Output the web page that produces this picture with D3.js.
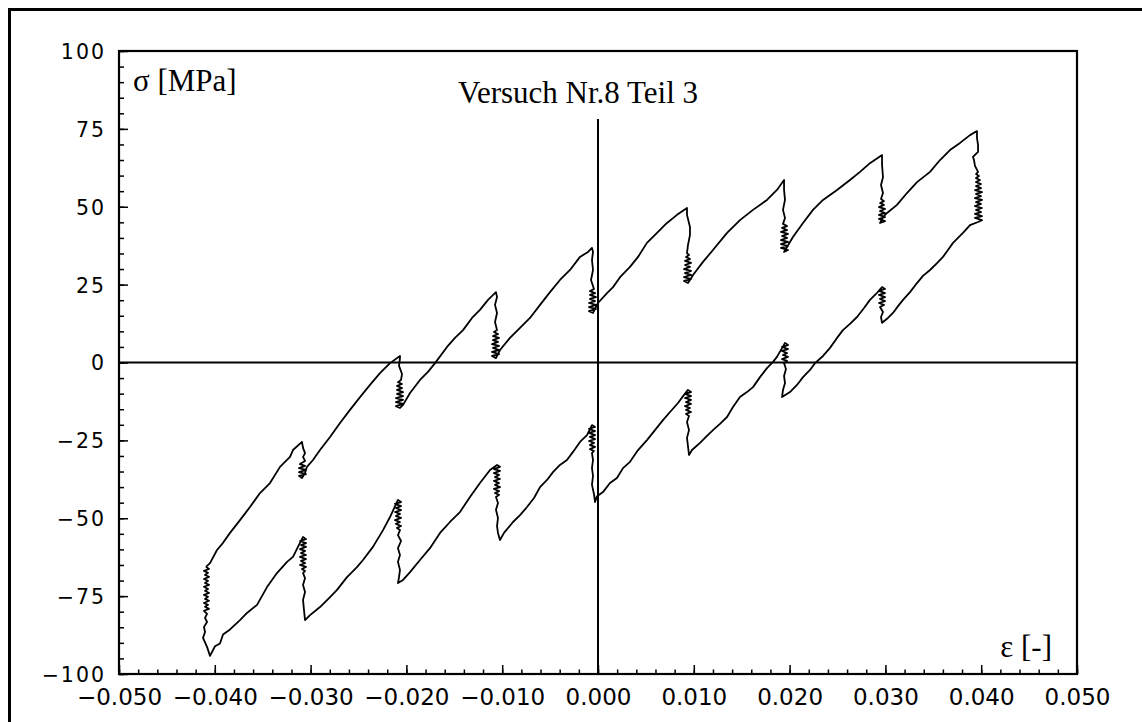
<!DOCTYPE html>
<html><head><meta charset="utf-8">
<script src="https://cdn.jsdelivr.net/npm/d3@7"></script>
<style>body{margin:0;background:#fff}svg{display:block}</style>
</head><body><svg id="c" width="1142" height="722"></svg>
<script>
// ---- data (strain [-], stress [MPa]) ----
// lower branch, left to right (incl. relaxation scribbles)
const lowerStrain = [
-0.04092,-0.04061,-0.04113,-0.04071,-0.04102,-0.04061,-0.04113,-0.04071,-0.04102,-0.04061,-0.04113,-0.04071,-0.04102,-0.04061,-0.04113,-0.04071,-0.04102,-0.04061,-0.04113,-0.04071,-0.04102,-0.04061,-0.04113,-0.04081,-0.04102,-0.04081,-0.04113,-0.04102,-0.04123,-0.04081,-0.04050,
-0.03998,-0.03946,-0.03914,-0.03841,-0.03737,-0.03664,-0.03559,-0.03455,-0.03351,-0.03246,-0.03184,-0.03111,-0.03079,
-0.03048,-0.03111,-0.03048,-0.03100,-0.03048,-0.03111,-0.03058,-0.03100,-0.03048,-0.03111,-0.03048,-0.03100,-0.03058,-0.03111,-0.03048,-0.03090,-0.03058,-0.03079,-0.03058,-0.03079,-0.03058,-0.03079,-0.03069,-0.03058,
-0.03006,-0.02902,-0.02797,-0.02724,-0.02620,-0.02516,-0.02453,-0.02349,-0.02244,-0.02171,-0.02088,
-0.02056,-0.02119,-0.02056,-0.02109,-0.02056,-0.02119,-0.02067,-0.02109,-0.02056,-0.02119,-0.02067,-0.02109,-0.02056,-0.02098,-0.02067,-0.02088,-0.02056,-0.02088,-0.02067,-0.02088,-0.02067,-0.02077,-0.02088,
-0.02035,-0.01962,-0.01858,-0.01754,-0.01649,-0.01545,-0.01441,-0.01336,-0.01232,-0.01127,-0.01054,
-0.01023,-0.01086,-0.01023,-0.01086,-0.01033,-0.01075,-0.01023,-0.01086,-0.01033,-0.01075,-0.01023,-0.01086,-0.01033,-0.01075,-0.01033,-0.01065,-0.01044,-0.01065,-0.01044,-0.01054,-0.01044,-0.01023,
-0.00981,-0.00887,-0.00814,-0.00741,-0.00668,-0.00605,-0.00532,-0.00470,-0.00397,-0.00324,-0.00261,-0.00188,-0.00115,-0.00063,
-0.00031,-0.00094,-0.00031,-0.00094,-0.00031,-0.00084,-0.00031,-0.00094,-0.00042,-0.00084,-0.00031,-0.00084,-0.00042,-0.00063,-0.00052,-0.00063,-0.00052,-0.00063,-0.00042,-0.00031,
-0.00010,0.00052,0.00125,0.00198,0.00261,0.00334,0.00418,0.00511,0.00595,0.00678,0.00752,0.00835,0.00898,0.00939,
0.00971,0.00908,0.00971,0.00908,0.00971,0.00919,0.00971,0.00908,0.00960,0.00919,0.00971,0.00919,0.00950,0.00929,0.00950,0.00929,0.00939,0.00950,
0.00981,0.01065,0.01127,0.01200,0.01273,0.01347,0.01409,0.01482,0.01555,0.01618,0.01691,0.01764,0.01827,0.01868,0.01952,
0.01983,0.01921,0.01983,0.01921,0.01973,0.01931,0.01983,0.01921,0.01973,0.01942,0.01962,0.01942,0.01952,0.01931,0.01921,
0.02004,0.02077,0.02140,0.02213,0.02265,0.02349,0.02422,0.02495,0.02557,0.02630,0.02704,0.02777,0.02839,0.02902,0.02965,
0.02996,0.02933,0.02996,0.02933,0.02996,0.02944,0.02996,0.02933,0.02985,0.02944,0.02975,0.02954,0.02965,
0.02975,0.03027,0.03079,0.03132,0.03184,0.03257,0.03330,0.03392,0.03466,0.03539,0.03601,0.03653,0.03706,0.03758,0.03810,0.03883,0.03967,
0.04008,0.03935,0.04008,0.03935,0.03998,0.03946,0.04008,0.03935,0.03998,0.03946,0.04008,0.03935,0.03998,0.03946,0.04008,0.03935,0.03998,0.03946,0.03998,0.03946,0.03987,0.03946,0.03977,0.03946,0.03967,0.03935,0.03925,0.03914,0.03967,0.03967,0.03956,0.03956
];
const lowerStress = [
-65.6,-66.3,-66.9,-67.5,-68.2,-68.8,-69.5,-70.1,-70.8,-71.4,-72.0,-72.7,-73.3,-74.0,-74.6,-75.2,-75.9,-76.5,-77.2,-77.8,-78.4,-79.1,-79.7,-80.7,-82.0,-83.3,-84.9,-86.5,-88.4,-91.3,-94.2,
-91.1,-90.2,-87.3,-85.7,-82.7,-80.4,-77.8,-72.1,-67.6,-64.0,-62.4,-57.9,-56.0,
-56.7,-57.3,-58.0,-58.6,-59.2,-59.9,-60.5,-61.2,-61.8,-62.4,-63.1,-63.7,-64.4,-65.0,-65.6,-66.3,-66.9,-67.6,-69.2,-71.4,-73.7,-76.2,-79.5,-82.7,
-81.1,-78.5,-75.3,-73.0,-68.9,-65.7,-63.4,-59.2,-53.8,-49.6,-44.1,
-44.8,-45.4,-46.1,-46.7,-47.4,-48.0,-48.6,-49.3,-49.9,-50.6,-51.2,-51.8,-52.5,-53.1,-53.8,-55.4,-57.3,-59.6,-61.8,-64.0,-66.6,-68.9,-70.8,
-69.8,-67.3,-63.4,-59.6,-54.7,-51.2,-48.0,-43.2,-38.7,-34.5,-32.9,
-33.5,-34.2,-34.8,-35.5,-36.1,-36.8,-37.4,-38.0,-38.7,-39.3,-40.0,-40.6,-41.3,-41.9,-42.5,-43.2,-45.1,-47.3,-49.9,-52.5,-54.7,-57.0,
-54.7,-51.2,-49.0,-46.4,-43.5,-40.0,-37.7,-35.2,-32.9,-31.3,-28.7,-25.5,-23.3,-20.1,
-20.7,-21.3,-22.0,-22.6,-23.3,-23.9,-24.6,-25.2,-25.8,-26.5,-27.1,-27.8,-28.4,-29.1,-31.3,-33.9,-36.4,-39.3,-42.2,-44.8,
-42.9,-41.6,-38.7,-37.1,-33.9,-31.9,-28.1,-24.9,-21.7,-18.5,-15.9,-13.0,-10.4,-8.8,
-9.5,-10.1,-10.8,-11.4,-12.0,-12.7,-13.3,-14.0,-14.6,-15.2,-15.9,-16.5,-17.2,-19.1,-21.7,-24.2,-26.8,-29.7,
-28.1,-25.8,-23.9,-21.7,-19.7,-17.5,-14.3,-11.1,-9.5,-7.9,-4.7,-1.8,0.2,1.8,6.3,
5.6,5.0,4.3,3.7,3.0,2.4,1.8,1.1,0.5,-0.2,-2.1,-4.3,-6.6,-8.8,-11.1,
-9.5,-7.2,-4.7,-2.4,-0.2,2.1,4.7,7.9,10.4,12.4,14.6,17.5,20.1,22.0,24.2,
23.6,23.0,22.3,21.7,21.0,20.4,19.7,19.1,18.5,17.8,16.2,14.6,12.7,
13.0,14.3,15.9,18.1,20.1,22.6,25.5,27.8,29.7,31.9,33.9,36.1,38.4,40.0,41.6,44.1,45.1,
45.7,46.4,47.0,47.7,48.3,49.0,49.6,50.2,50.9,51.5,52.2,52.8,53.4,54.1,54.7,55.3,56.0,56.6,57.3,57.9,58.6,59.2,59.9,60.5,61.2,63.1,65.0,66.0,67.6,69.8,72.1,74.3
];
// upper branch, right to left (incl. relaxation scribbles)
const upperStrain = [
0.03883,0.03779,0.03674,0.03570,0.03466,0.03330,0.03225,0.03121,0.03017,0.02975,
0.02944,0.02996,0.02933,0.02996,0.02933,0.02996,0.02944,0.02996,0.02933,0.02985,0.02944,0.02985,0.02954,0.02975,0.02954,0.02975,0.02965,0.02965,
0.02839,0.02735,0.02630,0.02495,0.02349,0.02244,0.02140,0.02035,0.01973,
0.01942,0.01983,0.01910,0.01983,0.01910,0.01983,0.01910,0.01973,0.01921,0.01983,0.01910,0.01973,0.01921,0.01973,0.01931,0.01952,0.01931,0.01952,0.01942,0.01942,
0.01868,0.01764,0.01618,0.01482,0.01347,0.01200,0.01096,0.00992,0.00960,
0.00939,0.00898,0.00971,0.00898,0.00971,0.00908,0.00971,0.00898,0.00960,0.00908,0.00971,0.00908,0.00960,0.00919,0.00950,0.00929,0.00939,0.00960,0.00960,0.00929,0.00929,
0.00825,0.00720,0.00616,0.00511,0.00418,0.00334,0.00230,0.00157,0.00094,0.00000,
-0.00052,-0.00094,-0.00021,-0.00094,-0.00021,-0.00094,-0.00031,-0.00084,-0.00021,-0.00084,-0.00031,-0.00084,-0.00042,-0.00073,-0.00052,-0.00063,-0.00052,-0.00063,
-0.00104,-0.00188,-0.00292,-0.00397,-0.00501,-0.00605,-0.00710,-0.00814,-0.00919,-0.01023,
-0.01065,-0.01106,-0.01033,-0.01106,-0.01033,-0.01096,-0.01033,-0.01106,-0.01044,-0.01096,-0.01033,-0.01096,-0.01044,-0.01086,-0.01054,-0.01075,-0.01054,-0.01075,-0.01054,-0.01065,
-0.01148,-0.01232,-0.01315,-0.01409,-0.01493,-0.01576,-0.01701,-0.01775,-0.01858,-0.01962,-0.02035,
-0.02067,-0.02109,-0.02035,-0.02109,-0.02035,-0.02109,-0.02035,-0.02098,-0.02035,-0.02098,-0.02046,-0.02098,-0.02046,-0.02088,-0.02056,-0.02046,-0.02077,-0.02067,-0.02067,
-0.02171,-0.02276,-0.02380,-0.02484,-0.02589,-0.02693,-0.02797,-0.02902,-0.02975,-0.03038,-0.03058,
-0.03090,-0.03121,-0.03048,-0.03121,-0.03048,-0.03121,-0.03058,-0.03111,-0.03058,-0.03079,-0.03058,-0.03079,-0.03090,
-0.03184,-0.03215,-0.03319,-0.03424,-0.03528,-0.03633,-0.03737,-0.03841,-0.03914,-0.03977,-0.04050,-0.04092
];
const upperStress = [
73.0,70.5,68.2,65.0,61.2,57.9,54.4,50.6,48.0,46.7,
44.8,45.4,46.1,46.7,47.4,48.0,48.6,49.3,49.9,50.6,51.2,51.8,52.5,54.4,57.0,59.5,63.4,66.6,
64.0,61.2,58.6,55.4,52.2,49.0,44.8,40.3,37.1,
35.5,36.1,36.8,37.4,38.0,38.7,39.3,40.0,40.6,41.3,41.9,42.5,43.2,43.8,44.5,46.4,49.0,52.2,55.4,58.6,
55.4,52.2,49.0,45.7,41.6,36.1,32.3,28.1,26.5,
25.5,26.2,26.8,27.4,28.1,28.7,29.4,30.0,30.7,31.3,32.0,32.6,33.2,33.9,34.5,35.1,37.7,40.9,43.5,47.4,49.6,
47.4,44.8,41.6,38.4,33.9,30.7,27.4,24.2,22.3,19.1,
15.9,16.5,17.2,17.8,18.5,19.1,19.7,20.4,21.0,21.7,22.3,22.9,23.6,26.5,29.7,32.9,35.5,36.8,
35.5,33.9,29.7,26.5,22.6,18.5,14.3,11.1,7.9,4.0,
1.4,2.1,2.7,3.4,4.0,4.7,5.3,5.9,6.6,7.2,7.9,8.5,9.1,9.8,10.4,13.0,15.9,18.5,21.0,22.6,
20.1,16.9,14.3,10.4,7.9,5.0,-0.2,-3.0,-5.6,-9.8,-13.6,
-14.6,-14.0,-13.3,-12.7,-12.0,-11.4,-10.8,-10.1,-9.5,-8.8,-8.2,-7.5,-6.9,-6.3,-5.6,-3.7,-1.1,1.4,2.1,
-0.2,-3.4,-7.2,-11.1,-15.2,-19.4,-23.9,-28.1,-31.3,-33.5,-35.5,
-37.1,-36.4,-35.8,-35.2,-34.5,-33.9,-33.2,-32.6,-31.6,-30.3,-29.1,-27.4,-25.5,
-28.1,-30.3,-33.5,-38.7,-41.9,-46.4,-50.6,-54.7,-57.9,-60.2,-64.4,-65.6
];
const xTickValues = [-0.05,-0.04,-0.03,-0.02,-0.01,0,0.01,0.02,0.03,0.04,0.05];
const yTickValues = [-100,-75,-50,-25,0,25,50,75,100];
const xMinorStep = 0.002;
const yMinorStep = 5;
const titleText = "Versuch Nr.8 Teil 3";
const yAxisLabel = "σ [MPa]";
const xAxisLabel = "ε [-]";

// ---- layout ----
const W = 1142, H = 722;
const m = {left: 119, top: 51, right: 1077, bottom: 674};
const svg = d3.select("#c");
svg.append("rect").attr("width", W).attr("height", H).attr("fill", "#fff");
svg.append("path").attr("d", `M9.5,${H} V9.5 H${W}`).attr("fill","none").attr("stroke","#000").attr("stroke-width",3);

const x = d3.scaleLinear().domain([-0.05, 0.05]).range([m.left, m.right]);
const y = d3.scaleLinear().domain([-100, 100]).range([m.bottom, m.top]);

const fmtX = v => (v < -1e-9 ? "\u2212" : "") + Math.abs(v).toFixed(3);
const fmtY = v => (v < 0 ? "\u2212" : "") + Math.abs(v);

const xMinor = d3.range(-0.05, 0.05 + 1e-9, xMinorStep);
const yMinor = d3.range(-100, 100 + 1e-9, yMinorStep);

svg.append("g").attr("transform", `translate(0,${m.bottom})`)
  .call(d3.axisBottom(x).tickValues(xMinor).tickSizeInner(-4.5).tickSizeOuter(0).tickFormat(""))
  .call(g => g.select(".domain").remove())
  .selectAll("line").attr("stroke","#000").attr("stroke-width",1.5);
svg.append("g").attr("transform", `translate(${m.left},0)`)
  .call(d3.axisLeft(y).tickValues(yMinor).tickSizeInner(-5).tickSizeOuter(0).tickFormat(""))
  .call(g => g.select(".domain").remove())
  .selectAll("line").attr("stroke","#000").attr("stroke-width",1.5);

const gx = svg.append("g").attr("transform", `translate(0,${m.bottom})`)
  .call(d3.axisBottom(x).tickValues(xTickValues).tickSizeInner(-9).tickSizeOuter(0).tickPadding(0).tickFormat(fmtX));
gx.select(".domain").remove();
gx.selectAll("line").attr("stroke","#000").attr("stroke-width",1.5);
gx.selectAll("text").attr("y", 31).attr("dy", null)
  .attr("font-family","'DejaVu Sans', sans-serif").attr("font-size", 23).attr("fill","#000");

const gy = svg.append("g").attr("transform", `translate(${m.left},0)`)
  .call(d3.axisLeft(y).tickValues(yTickValues).tickSizeInner(-9).tickSizeOuter(0).tickPadding(0).tickFormat(fmtY));
gy.select(".domain").remove();
gy.selectAll("line").attr("stroke","#000").attr("stroke-width",1.5);
gy.selectAll("text").attr("x", -13).attr("dy", "0.36em")
  .attr("font-family","'DejaVu Sans', sans-serif").attr("font-size", 20.5).attr("letter-spacing", 2).attr("fill","#000");

svg.append("line").attr("x1", m.left).attr("x2", m.right).attr("y1", y(0)).attr("y2", y(0))
  .attr("stroke","#000").attr("stroke-width",2);
svg.append("line").attr("x1", x(0)).attr("x2", x(0)).attr("y1", 119).attr("y2", m.bottom)
  .attr("stroke","#000").attr("stroke-width",2);

svg.append("rect").attr("x", m.left).attr("y", m.top).attr("width", m.right - m.left).attr("height", m.bottom - m.top)
  .attr("fill","none").attr("stroke","#000").attr("stroke-width",2.2);

const pts = lowerStrain.map((s, i) => [s, lowerStress[i]])
  .concat(upperStrain.map((s, i) => [s, upperStress[i]]));
const line = d3.line().x(d => x(d[0])).y(d => y(d[1]));
svg.append("path").datum(pts).attr("d", line).attr("fill","none")
  .attr("stroke","#000").attr("stroke-width",1.8).attr("stroke-linejoin","round");

const serif = "'Liberation Serif', 'Times New Roman', serif";
svg.append("text").attr("x", 133).attr("y", 91).attr("font-family", serif).attr("font-size", 31).text(yAxisLabel);
svg.append("text").attr("x", 458).attr("y", 103).attr("font-family", serif).attr("font-size", 31).text(titleText);
svg.append("text").attr("x", 1052).attr("y", 657).attr("text-anchor","end").attr("font-family", serif).attr("font-size", 31).text(xAxisLabel);
</script>
</body></html>
